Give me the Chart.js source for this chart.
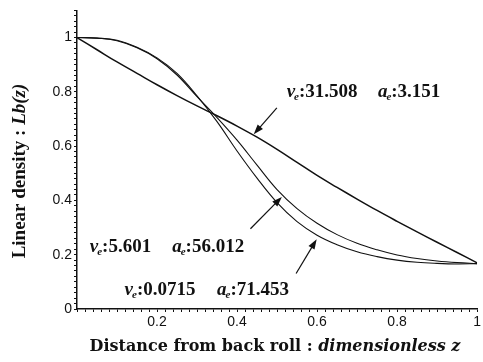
<!DOCTYPE html>
<html>
<head>
<meta charset="utf-8">
<script src="https://cdn.jsdelivr.net/npm/chart.js@4.4.1/dist/chart.umd.min.js"></script>
<style>
  html, body { margin: 0; padding: 0; background: #fff; }
  #wrap { width: 483px; height: 362px; }
</style>
</head>
<body>
<div id="wrap"><canvas id="myChart"></canvas></div>
<script>
// distance z (dimensionless)
var zValues = [0, 0.05, 0.1, 0.15, 0.2, 0.25, 0.3, 0.35, 0.4, 0.45, 0.5,
               0.55, 0.6, 0.65, 0.7, 0.75, 0.8, 0.85, 0.9, 0.95, 1];
// ve:31.508 ae:3.151
var lb1 = [1, 0.955, 0.91, 0.868, 0.826, 0.786, 0.748, 0.712, 0.674, 0.633, 0.588,
           0.54, 0.492, 0.448, 0.405, 0.363, 0.323, 0.284, 0.246, 0.208, 0.17];
// ve:5.601 ae:56.012
var lb2 = [1, 0.998, 0.988, 0.962, 0.922, 0.862, 0.782, 0.705, 0.622, 0.53, 0.44,
           0.37, 0.316, 0.274, 0.242, 0.218, 0.199, 0.186, 0.177, 0.171, 0.167];
// ve:0.0715 ae:71.453
var lb3 = [1, 0.998, 0.99, 0.964, 0.925, 0.868, 0.785, 0.69, 0.582, 0.482, 0.392,
           0.322, 0.272, 0.237, 0.211, 0.193, 0.18, 0.172, 0.168, 0.166, 0.167];

var xTickLabels = [0.2, 0.4, 0.6, 0.8, 1];
var yTickLabels = [0, 0.2, 0.4, 0.6, 0.8, 1];

var veValues = ["31.508", "5.601", "0.0715"];
var aeValues = ["3.151", "56.012", "71.453"];

// where the labels / arrows go, in data units
var labelPos = [
  { vx: 0.524, ax: 0.752, y: 0.799 },
  { vx: 0.032, ax: 0.238, y: 0.227 },
  { vx: 0.119, ax: 0.350, y: 0.070 }
];
var arrowPos = [
  { x0: 0.4995, y0: 0.741, x1: 0.4417, y1: 0.6436 },
  { x0: 0.4335, y0: 0.2956, x1: 0.512, y1: 0.413 },
  { x0: 0.5476, y0: 0.1308, x1: 0.599, y1: 0.257 }
];

function pts(ys) {
  return zValues.map(function (z, i) { return { x: z, y: ys[i] }; });
}

function minorTicks(max) {
  var t = [];
  for (var i = 0; i * 0.02 <= max + 1e-9; i++) t.push({ value: Math.round(i * 2) / 100 });
  return t;
}

function isLabel(list, v) {
  return list.some(function (l) { return Math.abs(l - v) < 1e-6; });
}

var serif = '"Liberation Serif", "Times New Roman", serif';
var slab = '"DejaVu Serif", serif';

function drawArrow(ctx, x0, y0, x1, y1) {
  var ang = Math.atan2(y1 - y0, x1 - x0);
  var hl = 10, hw = 3.5;
  ctx.beginPath();
  ctx.moveTo(x0, y0);
  ctx.lineTo(x1 - Math.cos(ang) * hl * 0.8, y1 - Math.sin(ang) * hl * 0.8);
  ctx.lineWidth = 1.2;
  ctx.stroke();
  ctx.beginPath();
  ctx.moveTo(x1, y1);
  ctx.lineTo(x1 - Math.cos(ang) * hl - Math.sin(ang) * hw, y1 - Math.sin(ang) * hl + Math.cos(ang) * hw);
  ctx.lineTo(x1 - Math.cos(ang) * hl + Math.sin(ang) * hw, y1 - Math.sin(ang) * hl - Math.cos(ang) * hw);
  ctx.closePath();
  ctx.fill();
}

function drawSub(ctx, x, y, sym, val) {
  ctx.font = 'italic bold 19px ' + serif;
  ctx.fillText(sym, x, y);
  var w = ctx.measureText(sym).width;
  ctx.font = 'italic bold 11px ' + serif;
  ctx.fillText('e', x + w - 1, y + 5);
  var w2 = ctx.measureText('e').width;
  ctx.font = 'bold 19px ' + serif;
  ctx.fillText(':' + val, x + w + w2 - 1, y);
}

var extras = {
  id: 'extras',
  afterDraw: function (chart) {
    var ctx = chart.ctx, xs = chart.scales.x, ys = chart.scales.y;
    ctx.save();
    ctx.fillStyle = '#111';
    ctx.strokeStyle = '#111';
    arrowPos.forEach(function (a) {
      drawArrow(ctx, xs.getPixelForValue(a.x0), ys.getPixelForValue(a.y0),
                xs.getPixelForValue(a.x1), ys.getPixelForValue(a.y1));
    });
    ctx.textBaseline = 'middle';
    ctx.textAlign = 'left';
    labelPos.forEach(function (p, i) {
      var py = ys.getPixelForValue(p.y);
      drawSub(ctx, xs.getPixelForValue(p.vx), py, 'v', veValues[i]);
      drawSub(ctx, xs.getPixelForValue(p.ax), py, 'a', aeValues[i]);
    });

    // x axis title
    var t1 = 'Distance from back roll : ', t2 = 'dimensionless z';
    ctx.font = 'bold 16px ' + slab;
    var w1 = ctx.measureText(t1).width;
    ctx.font = 'italic bold 16px ' + slab;
    var w2 = ctx.measureText(t2).width;
    var sx = 275 - (w1 + w2) / 2;
    ctx.font = 'bold 16px ' + slab;
    ctx.fillText(t1, sx, 347);
    ctx.font = 'italic bold 16px ' + slab;
    ctx.fillText(t2, sx + w1, 347);

    // y axis title
    var u1 = 'Linear density : ', u2 = 'Lb(z)';
    ctx.translate(20, 171);
    ctx.rotate(-Math.PI / 2);
    ctx.font = 'bold 19px ' + serif;
    var v1 = ctx.measureText(u1).width;
    ctx.font = 'italic bold 19px ' + serif;
    var v2 = ctx.measureText(u2).width;
    ctx.font = 'bold 19px ' + serif;
    ctx.fillText(u1, -(v1 + v2) / 2, 0);
    ctx.font = 'italic bold 19px ' + serif;
    ctx.fillText(u2, -(v1 + v2) / 2 + v1, 0);
    ctx.restore();
  }
};

new Chart("myChart", {
  type: "line",
  data: {
    datasets: [
      { data: pts(lb1), borderColor: '#111', borderWidth: 1.5, pointRadius: 0, tension: 0.4 },
      { data: pts(lb2), borderColor: '#111', borderWidth: 1.1, pointRadius: 0, tension: 0.4 },
      { data: pts(lb3), borderColor: '#111', borderWidth: 1.1, pointRadius: 0, tension: 0.4 }
    ]
  },
  options: {
    responsive: true,
    maintainAspectRatio: false,
    animation: false,
    layout: { padding: { top: 9, right: 3, left: 0, bottom: 0 } },
    plugins: { legend: { display: false }, tooltip: { enabled: false } },
    scales: {
      x: {
        type: 'linear', min: 0, max: 1,
        afterBuildTicks: function (s) { s.ticks = minorTicks(1); },
        afterFit: function (s) { s.height = 53; },
        border: { display: true, color: '#111', width: 1.5 },
        grid: { drawOnChartArea: false, drawTicks: true, tickLength: 3, color: '#111' },
        ticks: {
          autoSkip: false, maxRotation: 0, padding: 2,
          color: '#111', font: { family: 'Arial, "Liberation Sans"', size: 14 },
          callback: function (v) { return isLabel(xTickLabels, v) ? String(v) : ''; }
        }
      },
      y: {
        type: 'linear', min: 0, max: 1.1,
        afterBuildTicks: function (s) { s.ticks = minorTicks(1.1); },
        afterFit: function (s) { s.width = 77; },
        border: { display: true, color: '#111', width: 1.5 },
        grid: { drawOnChartArea: false, drawTicks: true, tickLength: 3, color: '#111' },
        ticks: {
          autoSkip: false, padding: 2,
          color: '#111', font: { family: 'Arial, "Liberation Sans"', size: 14 },
          callback: function (v) { return isLabel(yTickLabels, v) ? String(v) : ''; }
        }
      }
    }
  },
  plugins: [extras]
});
</script>
</body>
</html>
